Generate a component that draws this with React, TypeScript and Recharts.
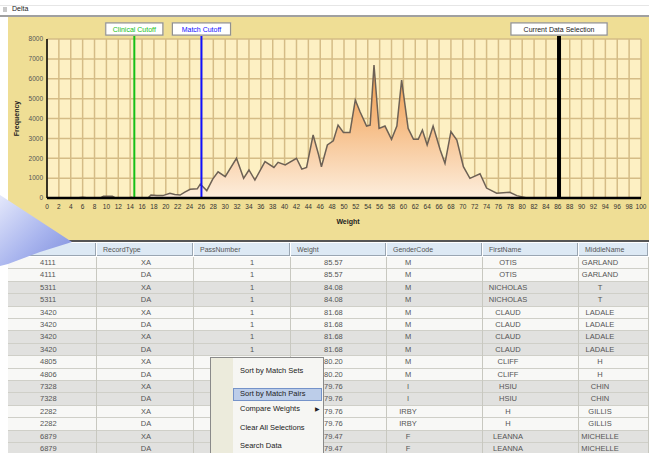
import React from 'react'
import { AreaChart, Area, XAxis, YAxis, CartesianGrid, ReferenceLine } from 'recharts'

// histogram of match weights
const weights = [0, 5, 6, 7, 9, 9.5, 11, 11.5, 13.8, 14.2, 14.6, 17, 17.5, 18.5, 19.5, 20.7, 21.5, 22.4, 23.2, 24.1, 25.3, 25.8, 26.9, 27.9, 28.8, 30, 31.9, 33.1, 34, 35, 36.7, 38.2, 38.9, 40.1, 42, 42.9, 43.7, 44.8, 45.7, 46.2, 47.2, 48.2, 49, 49.9, 51, 51.9, 52.7, 53.8, 54.4, 55.05, 55.9, 56.9, 58, 58.9, 59.7, 60.8, 61.7, 62.5, 63.2, 64, 65, 66.2, 67, 68, 69, 70.1, 71.2, 72.9, 74, 75.7, 77.9, 79.1, 80.8, 100]
const frequencies = [0, 0, 40, 0, 0, 90, 90, 0, 0, 40, 0, 0, 150, 120, 120, 240, 180, 150, 300, 440, 460, 700, 370, 950, 1320, 1070, 2000, 990, 1410, 905, 1830, 1540, 1795, 1660, 2000, 1450, 1540, 3170, 2200, 1570, 2670, 2880, 3670, 3300, 3300, 4930, 4340, 3620, 3670, 6690, 3500, 3620, 2950, 3620, 5935, 3500, 2950, 2950, 3420, 2670, 3620, 2415, 1745, 3335, 2920, 1575, 990, 1220, 500, 240, 285, 120, 0, 0]

const xTicks = [0, 2, 4, 6, 8, 10, 12, 14, 16, 18, 20, 22, 24, 26, 28, 30, 32, 34, 36, 38, 40, 42, 44, 46, 48, 50, 52, 54, 56, 58, 60, 62, 64, 66, 68, 70, 72, 74, 76, 78, 80, 82, 84, 86, 88, 90, 92, 94, 96, 98, 100]
const yTicks = [0, 1000, 2000, 3000, 4000, 5000, 6000, 7000, 8000]

const cutoffNames = ['Clinical Cutoff', 'Match Cutoff', 'Current Data Selection']
const cutoffWeights = [14.7, 26, 86.2]

// table below the chart
const columnNames = ['', 'RecordType', 'PassNumber', 'Weight', 'GenderCode', 'FirstName', 'MiddleName']
const recordIds = ['4111', '4111', '5311', '5311', '3420', '3420', '3420', '3420', '4805', '4806', '7328', '7328', '2282', '2282', '6879', '6879']
const recordTypes = ['XA', 'DA', 'XA', 'DA', 'XA', 'DA', 'XA', 'DA', 'XA', 'DA', 'XA', 'DA', 'XA', 'DA', 'XA', 'DA']
const passNumbers = ['1', '1', '1', '1', '1', '1', '1', '1', '1', '1', '1', '1', '1', '1', '1', '1']
const rowWeights = ['85.57', '85.57', '84.08', '84.08', '81.68', '81.68', '81.68', '81.68', '80.20', '80.20', '79.76', '79.76', '79.76', '79.76', '79.47', '79.47']
const genderCodes = ['M', 'M', 'M', 'M', 'M', 'M', 'M', 'M', 'M', 'M', 'I', 'I', 'IRBY', 'IRBY', 'F', 'F']
const firstNames = ['OTIS', 'OTIS', 'NICHOLAS', 'NICHOLAS', 'CLAUD', 'CLAUD', 'CLAUD', 'CLAUD', 'CLIFF', 'CLIFF', 'HSIU', 'HSIU', 'H', 'H', 'LEANNA', 'LEANNA']
const middleNames = ['GARLAND', 'GARLAND', 'T', 'T', 'LADALE', 'LADALE', 'LADALE', 'LADALE', 'H', 'H', 'CHIN', 'CHIN', 'GILLIS', 'GILLIS', 'MICHELLE', 'MICHELLE']

const menuItems = ['Sort by Match Sets', 'Sort by Match Pairs', 'Compare Weights', 'Clear All Selections', 'Search Data']

const data = weights.map((w, i) => ({ weight: w, freq: frequencies[i] }))

const cutoffColors = ['#16c016', '#1010ff', '#000000']
const cutoffLineWidths = [2, 2, 4]
const cutoffBoxWidths = [57, 58, 96]

const font = '"Liberation Sans", Arial, sans-serif'

const CutoffTag = (props: any) => {
  const { viewBox, text, color, boxW } = props
  if (!viewBox) return null
  const cx = viewBox.x
  const top = viewBox.y
  return (
    <g>
      <line x1={cx} x2={cx} y1={top - 4} y2={top} stroke={color} strokeWidth={props.sw} />
      <rect x={cx - boxW / 2 - 1} y={top - 17} width={boxW + 2} height={14} fill="#cfc7a8" />
      <rect x={cx - boxW / 2} y={top - 16} width={boxW} height={12} fill="#ffffff" stroke="#8c8c8c" strokeWidth={1} />
      <text x={cx} y={top - 7.5} textAnchor="middle" fontSize={7} fontFamily={font} fill={color === '#000000' ? '#222' : color}>
        {text}
      </text>
    </g>
  )
}

const colLefts = [8, 97, 194, 291, 387, 483, 579]
const colWidths = [89, 97, 97, 96, 96, 96, 70]
// left padding for left-aligned columns, centre x for centred ones
const cellPad = [32, 0, 0, 33, 0, 0, 0]
const cellCenter = [0, 146, 252, 0, 408, 508, 600]
const rowTop = 257
const rowH = 12.4
const menuBox = { left: 210, top: 357, width: 114, height: 100 }

const App: React.FC = () => {
  const columns = [recordIds, recordTypes, passNumbers, rowWeights, genderCodes, firstNames, middleNames]
  const underMenu = (ci: number, ri: number) => {
    const cx = cellCenter[ci] || colLefts[ci] + cellPad[ci] + 8
    const cy = rowTop + ri * rowH + rowH / 2
    return cx > menuBox.left && cx < menuBox.left + menuBox.width && cy > menuBox.top
  }
  return (
    <div style={{ position: 'fixed', left: 0, top: 0, width: 649, height: 453, overflow: 'hidden', background: '#ffffff', fontFamily: font }}>
      {/* title strip */}
      <div style={{ position: 'absolute', left: 0, top: 0, width: 649, height: 15, background: '#fff', borderBottom: '2px solid #a0a0a0' }}>
        <div style={{ position: 'absolute', left: 0, top: 5, width: 649, height: 1, background: '#e6e6e6' }} />
        <div style={{ position: 'absolute', left: 3, top: 7, width: 4, height: 5, background: '#c8c8c8' }} />
        <span style={{ position: 'absolute', left: 12, top: 5, fontSize: 7, color: '#222' }}>Delta</span>
      </div>

      {/* chart panel */}
      <div style={{ position: 'absolute', left: 8, top: 17, width: 641, height: 224, background: '#efde95' }}>
        <AreaChart width={641} height={218} data={data} margin={{ top: 22, right: 8, left: 0, bottom: 0 }}>
          <defs>
            <linearGradient id="wfill" x1="0" y1="0" x2="0" y2="1">
              <stop offset="0%" stopColor="#f09a48" />
              <stop offset="45%" stopColor="#f6bd86" />
              <stop offset="100%" stopColor="#fdeedd" />
            </linearGradient>
          </defs>
          <CartesianGrid fill="#fdf0c3" stroke="#d5bc86" strokeWidth={1.5} />
          <XAxis
            type="number"
            dataKey="weight"
            domain={[0, 100]}
            ticks={xTicks}
            interval={0}
            height={37}
            tickLine={false}
            tickSize={4}
            axisLine={{ stroke: '#000', strokeWidth: 2.5 }}
            tick={{ fontSize: 6.5, fill: '#333', fontFamily: font }}
            label={{ value: 'Weight', position: 'insideBottom', offset: 11, dx: 4, fontSize: 7, fontWeight: 'bold', fill: '#222', fontFamily: font }}
          />
          <YAxis
            domain={[0, 8000]}
            ticks={yTicks}
            interval={0}
            width={39}
            tickLine={false}
            tickSize={3}
            tickMargin={1}
            axisLine={{ stroke: '#000', strokeWidth: 1.5 }}
            tick={{ fontSize: 6.5, fill: '#555', fontFamily: font }}
            label={{ value: 'Frequency', angle: -90, position: 'insideLeft', offset: 9, textAnchor: 'middle', fontSize: 7, fontWeight: 'bold', fill: '#222', fontFamily: font }}
          />
          <Area
            type="linear"
            dataKey="freq"
            stroke="#6d6155"
            strokeWidth={1.5}
            fill="url(#wfill)"
            fillOpacity={1}
            isAnimationActive={false}
            dot={false}
            activeDot={false}
          />
          {cutoffWeights.map((w, i) => (
            <ReferenceLine
              key={cutoffNames[i]}
              x={w}
              stroke={cutoffColors[i]}
              strokeWidth={cutoffLineWidths[i]}
              label={<CutoffTag text={cutoffNames[i]} color={cutoffColors[i]} boxW={cutoffBoxWidths[i]} sw={cutoffLineWidths[i]} />}
            />
          ))}
        </AreaChart>
      </div>

      {/* grid table */}
      <div style={{ position: 'absolute', left: 8, top: 240, width: 641, height: 2, background: '#555' }} />
      {columnNames.map((c, ci) => (
        <div
          key={'h' + ci}
          style={{
            position: 'absolute', left: colLefts[ci], top: 243, width: colWidths[ci] - 1, height: 13,
            background: '#dde9f4', borderRight: '1px solid #9aa6b2', borderBottom: '1px solid #9aa6b2',
            fontSize: 7, color: '#555', lineHeight: '13px', paddingLeft: 6, boxSizing: 'border-box',
          }}
        >
          {c}
        </div>
      ))}
      {recordIds.map((_, ri) => (
        <div key={'r' + ri} style={{ position: 'absolute', left: 8, top: rowTop + ri * rowH, width: 641, height: rowH, background: Math.floor(ri / 2) % 2 === 0 ? '#f8f8f6' : '#e1e1df', borderBottom: '1px solid #cfcfc8', boxSizing: 'border-box' }}>
          {colLefts.map((l, ci) => (
            <div key={'b' + ci} style={{ position: 'absolute', left: l - 8 + colWidths[ci] - 1, top: 0, width: 1, height: rowH, background: '#c8c8c0' }} />
          ))}
          {columns.map((col, ci) =>
            underMenu(ci, ri) ? null : (
              <div
                key={ci}
                style={{
                  position: 'absolute',
                  left: cellCenter[ci] ? cellCenter[ci] - 8 - 40 : colLefts[ci] - 8 + cellPad[ci],
                  width: cellCenter[ci] ? 80 : undefined,
                  textAlign: cellCenter[ci] ? 'center' : 'left',
                  top: 0, fontSize: 7.5, color: '#555', lineHeight: rowH + 'px', whiteSpace: 'nowrap',
                }}
              >
                {col[ri]}
              </div>
            ),
          )}
        </div>
      ))}

      {/* page curl */}
      <svg width={80} height={80} style={{ position: 'absolute', left: 0, top: 192 }}>
        <defs>
          <linearGradient id="curl" x1="0" y1="0" x2="1" y2="1">
            <stop offset="0%" stopColor="#e4e8fb" />
            <stop offset="55%" stopColor="#a9b5ee" />
            <stop offset="100%" stopColor="#7d8ddd" />
          </linearGradient>
        </defs>
        <polygon points="0,3 72,50 40,60 8,72 0,74" fill="url(#curl)" />
      </svg>

      {/* context menu */}
      <div style={{ position: 'absolute', left: menuBox.left, top: menuBox.top, width: menuBox.width, height: menuBox.height, background: '#f6f6f3', border: '1px solid #8a8a8a', boxSizing: 'border-box' }}>
        <div style={{ position: 'absolute', left: 0, top: 0, width: 22, height: 100, background: '#ecebdc' }} />
        <div style={{ position: 'absolute', left: 22, top: 30, width: 89, height: 13, background: '#bccde9', border: '1px solid #7593c9', boxSizing: 'border-box' }} />
        {menuItems.map((m, i) => (
          <div key={m} style={{ position: 'absolute', left: 29, top: [8, 31, 46, 65, 83][i], fontSize: 7.5, color: '#222', whiteSpace: 'nowrap', lineHeight: '10px' }}>
            {m}
            {i === 2 && <span style={{ position: 'absolute', left: 75, fontSize: 6 }}>▶</span>}
          </div>
        ))}
      </div>
    </div>
  )
}

export default App
